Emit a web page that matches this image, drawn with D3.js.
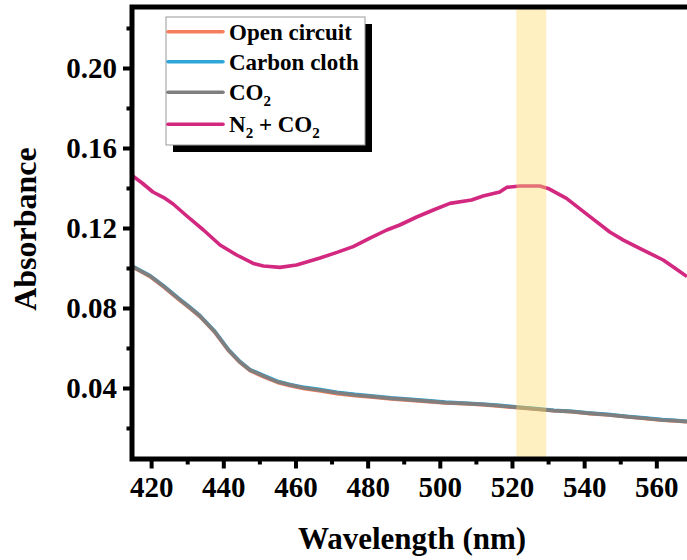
<!DOCTYPE html>
<html>
<head>
<meta charset="utf-8">
<script src="https://cdn.jsdelivr.net/npm/d3@7"></script>
<style>
  html, body { margin: 0; padding: 0; background: #fff; }
  svg { display: block; }
</style>
</head>
<body>
<svg id="chart" width="687" height="560"></svg>
<script>
// ---- data ----
const seriesNames = ["Open circuit", "Carbon cloth", "CO2", "N2 + CO2"];
const seriesColors = ["#F47E5E", "#2EA6D8", "#7F7F7F", "#D2287F"];

const wlBase = [414.9, 419.7, 423.5, 427.5, 430.5, 433.5, 437.7, 441.4, 444.6, 447.4, 451.5, 455.0, 458.5, 462.5, 466.5, 471.5, 476.5, 481.5, 486.5, 494.0, 501.5, 506.5, 511.6, 516.6, 521.6, 526.6, 531.6, 536.6, 541.6, 546.6, 551.6, 556.6, 561.7, 565.0, 568.5];
const openCircuit = [0.1005, 0.0957, 0.0905, 0.0845, 0.0802, 0.0757, 0.0677, 0.0588, 0.0528, 0.0487, 0.0453, 0.0428, 0.0411, 0.0396, 0.0386, 0.0372, 0.0362, 0.0354, 0.0345, 0.0335, 0.0325, 0.0321, 0.0316, 0.0309, 0.0301, 0.0294, 0.0286, 0.0281, 0.0272, 0.0265, 0.0256, 0.0248, 0.0239, 0.0235, 0.0231];
const carbonCloth = [0.1008, 0.0962, 0.0910, 0.0851, 0.0808, 0.0763, 0.0682, 0.0593, 0.0533, 0.0492, 0.0460, 0.0434, 0.0418, 0.0403, 0.0393, 0.0379, 0.0368, 0.0360, 0.0351, 0.0341, 0.0330, 0.0325, 0.0320, 0.0313, 0.0305, 0.0297, 0.0289, 0.0284, 0.0275, 0.0268, 0.0259, 0.0251, 0.0242, 0.0239, 0.0234];
const co2 = [0.1007, 0.0960, 0.0908, 0.0848, 0.0805, 0.0760, 0.0680, 0.0590, 0.0530, 0.0490, 0.0457, 0.0431, 0.0415, 0.0400, 0.0390, 0.0376, 0.0365, 0.0357, 0.0348, 0.0338, 0.0327, 0.0323, 0.0318, 0.0311, 0.0303, 0.0295, 0.0287, 0.0282, 0.0273, 0.0266, 0.0257, 0.0249, 0.0240, 0.0237, 0.0232];

const wlN2 = [414.9, 417.5, 420.5, 423.5, 426.1, 429.9, 434.5, 439.1, 443.7, 448.3, 451.1, 455.7, 460.3, 466.8, 471.5, 476.0, 480.5, 485.3, 488.9, 493.6, 498.2, 502.8, 508.8, 512.0, 516.6, 518.5, 522.2, 527.7, 530.0, 535.1, 541.6, 547.1, 551.0, 555.4, 561.9, 565.5, 568.5];
const n2co2 = [0.146, 0.1425, 0.138, 0.1352, 0.132, 0.126, 0.119, 0.1115, 0.1065, 0.1023, 0.101, 0.1003, 0.1015, 0.105, 0.1078, 0.1107, 0.1148, 0.119, 0.1215, 0.1255, 0.129, 0.1323, 0.134, 0.136, 0.138, 0.1403, 0.141, 0.141, 0.1398, 0.1348, 0.1257, 0.118, 0.1138, 0.1098, 0.104, 0.0995, 0.0957];

const band = [521.2, 529.5];
const xMajor = [420, 440, 460, 480, 500, 520, 540, 560];
const xMinor = [430, 450, 470, 490, 510, 530, 550];
const yMajor = [0.04, 0.08, 0.12, 0.16, 0.20];
const yMinor = [0.02, 0.06, 0.10, 0.14, 0.18, 0.22];

// ---- layout ----
const FONT = "'Liberation Serif', 'Times New Roman', 'DejaVu Serif', serif";
const L = 132, R = 687, T = 7, B = 459;
const svg = d3.select("#chart");
const x = d3.scaleLinear().domain([414.7, 568.5]).range([L, R]);
const y = d3.scaleLinear().domain([0.0045, 0.2305]).range([B, T]);

svg.append("defs").append("clipPath").attr("id", "clip")
  .append("rect").attr("x", L).attr("y", T).attr("width", R - L + 10).attr("height", B - T);

const plot = svg.append("g").attr("clip-path", "url(#clip)");
const line = d3.line().x(d => x(d[0])).y(d => y(d[1]));

const allSeries = [
  wlBase.map((w, i) => [w, openCircuit[i]]),
  wlBase.map((w, i) => [w, carbonCloth[i]]),
  wlBase.map((w, i) => [w, co2[i]]),
  wlN2.map((w, i) => [w, n2co2[i]])
];
allSeries.forEach((s, i) => {
  plot.append("path").datum(s).attr("d", line)
    .attr("fill", "none").attr("stroke", seriesColors[i])
    .attr("stroke-width", 3.6).attr("stroke-linejoin", "round");
});

// highlight band (semi-transparent, on top)
plot.append("rect")
  .attr("x", x(band[0])).attr("width", x(band[1]) - x(band[0]))
  .attr("y", T).attr("height", B - T)
  .attr("fill", "rgba(255,217,102,0.4)");

// ---- axes ----
const fs = 29;
const gx = svg.append("g").attr("transform", `translate(0,${B})`);
gx.call(d3.axisBottom(x).tickValues(xMajor).tickSize(9.5).tickPadding(8).tickFormat(d3.format("d")));
gx.append("g").call(d3.axisBottom(x).tickValues(xMinor).tickSize(5.5).tickFormat(""));
gx.selectAll(".domain").remove();
gx.selectAll("line").attr("stroke", "#000").attr("stroke-width", 4);

const gy = svg.append("g").attr("transform", `translate(${L},0)`);
gy.call(d3.axisLeft(y).tickValues(yMajor).tickSize(9).tickPadding(6).tickFormat(d3.format(".2f")));
gy.append("g").call(d3.axisLeft(y).tickValues(yMinor).tickSize(5.5).tickFormat(""));
gy.selectAll(".domain").remove();
gy.selectAll("line").attr("stroke", "#000").attr("stroke-width", 4);

[gx, gy].forEach(g => {
  g.attr("font-family", null).attr("font-size", null);
  g.selectAll("text").style("font-family", FONT).style("font-weight", "bold")
    .style("font-size", fs + "px").attr("fill", "#000");
});

// frame
svg.append("rect").attr("x", L).attr("y", T).attr("width", 700).attr("height", B - T)
  .attr("fill", "none").attr("stroke", "#000").attr("stroke-width", 5);

// axis titles
svg.append("text").attr("x", 412).attr("y", 549).attr("text-anchor", "middle")
  .style("font-family", FONT).style("font-weight", "bold")
  .style("font-size", "31px").text("Wavelength (nm)");
svg.append("text").attr("transform", "translate(36,229) rotate(-90)").attr("text-anchor", "middle")
  .style("font-family", FONT).style("font-weight", "bold")
  .style("font-size", "32px").text("Absorbance");

// ---- legend ----
const lg = svg.append("g");
lg.append("rect").attr("x", 173).attr("y", 24).attr("width", 199).attr("height", 128).attr("fill", "#000");
lg.append("rect").attr("x", 166).attr("y", 17).attr("width", 199).attr("height", 128)
  .attr("fill", "#fff").attr("stroke", "#999").attr("stroke-width", 1);
const rowsY = [31.7, 61.7, 92.3, 124.3];
const labelParts = [
  [["Open circuit", false]],
  [["Carbon cloth", false]],
  [["CO", false], ["2", true]],
  [["N", false], ["2", true], [" + CO", false], ["2", true]]
];
rowsY.forEach((ry, i) => {
  lg.append("line").attr("x1", 168).attr("x2", 223).attr("y1", ry).attr("y2", ry)
    .attr("stroke", seriesColors[i]).attr("stroke-width", 3.6).attr("stroke-linecap", "round");
  const t = lg.append("text").attr("x", 229).attr("y", ry + 8)
    .style("font-family", FONT).style("font-weight", "bold").style("font-size", "23px");
  labelParts[i].forEach((p, k) => {
    const ts = t.append("tspan").text(p[0]);
    if (p[1]) ts.attr("dy", 6).style("font-size", "15px");
    else if (k > 0) ts.attr("dy", -6);
  });
});
</script>
</body>
</html>
